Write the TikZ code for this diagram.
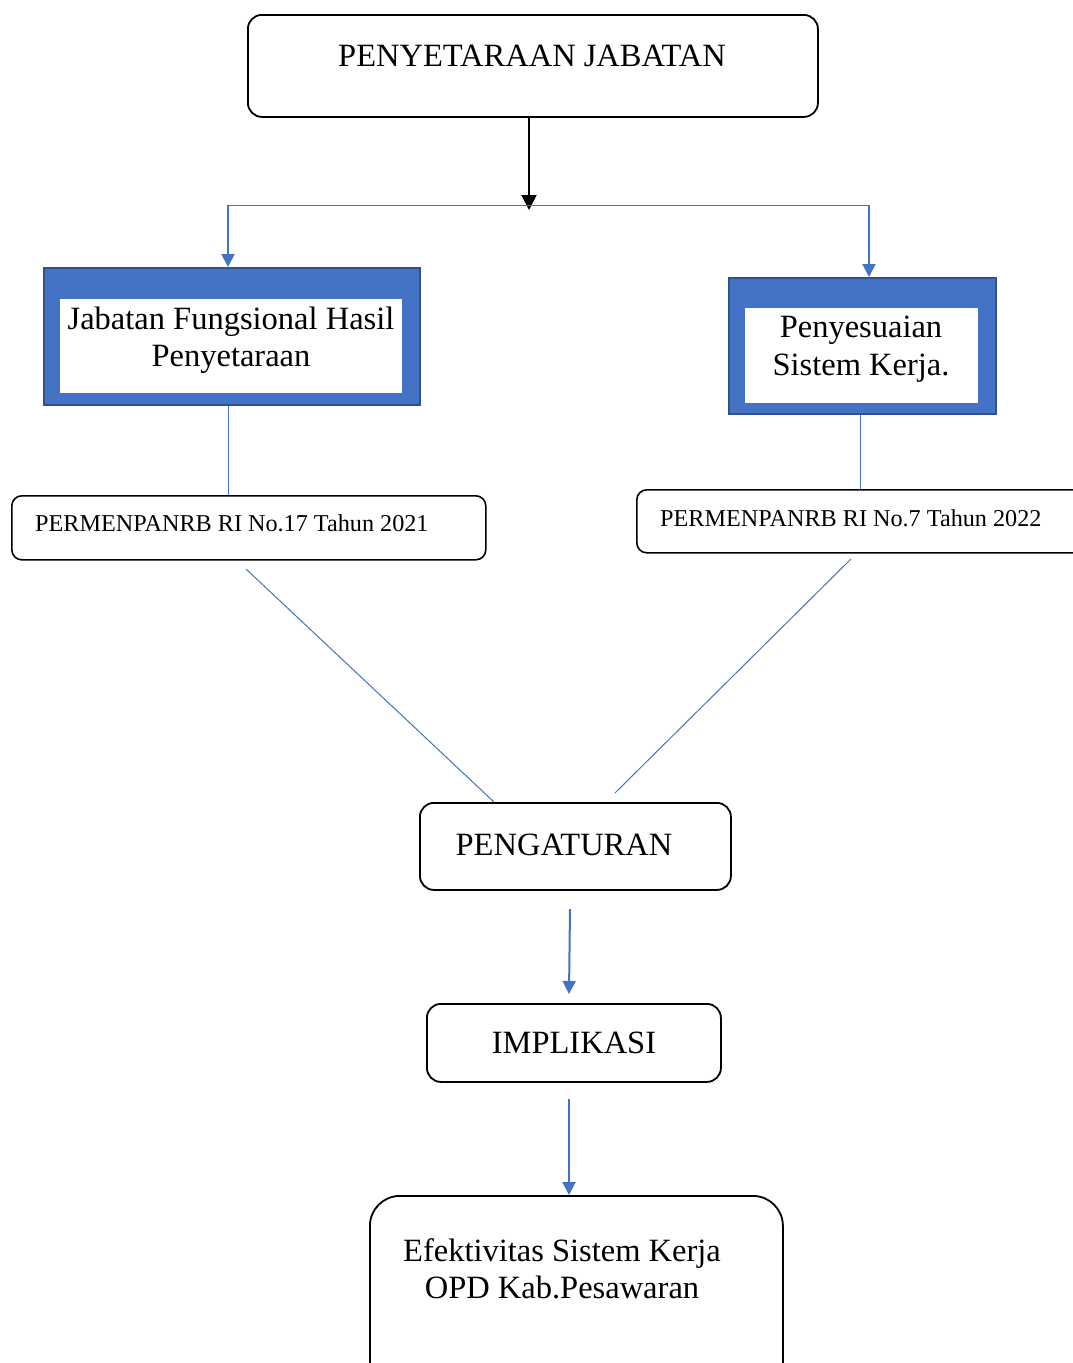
\documentclass[tikz,border=0pt]{standalone}
\usepackage{fontspec}
\setmainfont{Liberation Serif}
\usetikzlibrary{arrows.meta}
\definecolor{wblue}{HTML}{4472C4}
\definecolor{wdark}{HTML}{2F528F}
\begin{document}
\begin{tikzpicture}[x=1pt,y=-1pt,
  rbox/.style={draw=black, line width=1.8pt, rounded corners=#1, inner sep=0pt},
  rbox/.default=14pt,
  bluebox/.style={draw=wdark, line width=2pt, fill=wblue, inner sep=0pt},
  whitebox/.style={fill=white, inner sep=0pt},
  big/.style={font=\fontsize{32.5}{37.5}\selectfont, align=center, inner sep=0pt},
  small/.style={font=\fontsize{24.2}{28}\selectfont, inner sep=0pt},
  bline/.style={draw=wblue, line width=1pt},
  barrow/.style={draw=wblue, line width=2pt, -{Triangle[width=13pt,length=13pt]}},
]
\useasboundingbox (0,0) rectangle (1073,1363);
\fill[white] (0,0) rectangle (1073,1363);

% top box
\node[rbox, minimum width=570pt, minimum height=102pt, anchor=north west] (top) at (247,14) {};
\node[big, anchor=base] (topt) at (532,66) {PENYETARAAN JABATAN};

% split
\coordinate (split) at (529,210);
\coordinate (L) at (228,205);
\coordinate (R) at (869,205);
\draw[line width=2pt, -{Triangle[width=15pt,length=15pt]}] (top.south -| split) -- (split);
\draw[bline] (L) -- (R);

% left blue box
\node[bluebox, minimum width=376pt, minimum height=137pt, anchor=north west] (jfh) at (43,267) {};
\node[whitebox, minimum width=342pt, minimum height=94pt, anchor=north west] (jfhw) at (60,299) {};
\node[big, anchor=center] (jfht) at (231,340) {Jabatan Fungsional Hasil\\Penyetaraan};

% right blue box
\node[bluebox, minimum width=267pt, minimum height=136pt, anchor=north west] (pss) at (728,277) {};
\node[whitebox, minimum width=233pt, minimum height=95pt, anchor=north west] (pssw) at (745,308) {};
\node[big, anchor=center] (psst) at (861,349) {Penyesuaian\\Sistem Kerja.};

\draw[barrow] (L) -- (L |- jfh.north);
\draw[barrow] (R) -- (R |- pss.north);

% permen boxes
\node[rbox=10pt, line width=1.6pt, minimum width=474pt, minimum height=64pt, anchor=north west] (p1) at (11,495) {};
\node[small, anchor=base west] (p1t) at (35,531) {PERMENPANRB RI No.17 Tahun 2021};
\node[rbox=10pt, line width=1.6pt, minimum width=460pt, minimum height=63pt, anchor=north west] (p2) at (636,489) {};
\node[small, anchor=base west] (p2t) at (660,526) {PERMENPANRB RI No.7 Tahun 2022};

\draw[bline] (jfh.south -| L) -- (p1.north -| L);
\coordinate (rx) at (860,0);
\draw[bline] (pss.south -| rx) -- (p2.north -| rx);

% pengaturan
\node[rbox, minimum width=311pt, minimum height=87pt, anchor=north west] (peng) at (419,802) {};
\node[big, anchor=center] (pengt) at (564,845) {PENGATURAN};

\coordinate (d1a) at (246,569);
\coordinate (d1b) at (494,802);
\coordinate (d2a) at (851,559);
\coordinate (d2b) at (615,793);
\draw[bline] (d1a) -- (d1b);
\draw[bline] (d2a) -- (d2b);

% implikasi
\node[rbox, minimum width=294pt, minimum height=78pt, anchor=north west] (impl) at (426,1003) {};
\node[big, anchor=center] (implt) at (574,1043) {IMPLIKASI};
\coordinate (a1) at (570,909);
\draw[barrow] (a1) -- (569,994);

% efektivitas
\node[rbox=30pt, minimum width=413pt, minimum height=200pt, anchor=north west] (efek) at (369,1195) {};
\node[big, anchor=center, align=center] (efekt) at (562,1269) {Efektivitas Sistem Kerja\\OPD Kab.Pesawaran};
\coordinate (a2) at (569,1099);
\draw[barrow] (a2) -- (a2 |- efek.north);
\end{tikzpicture}
\end{document}
